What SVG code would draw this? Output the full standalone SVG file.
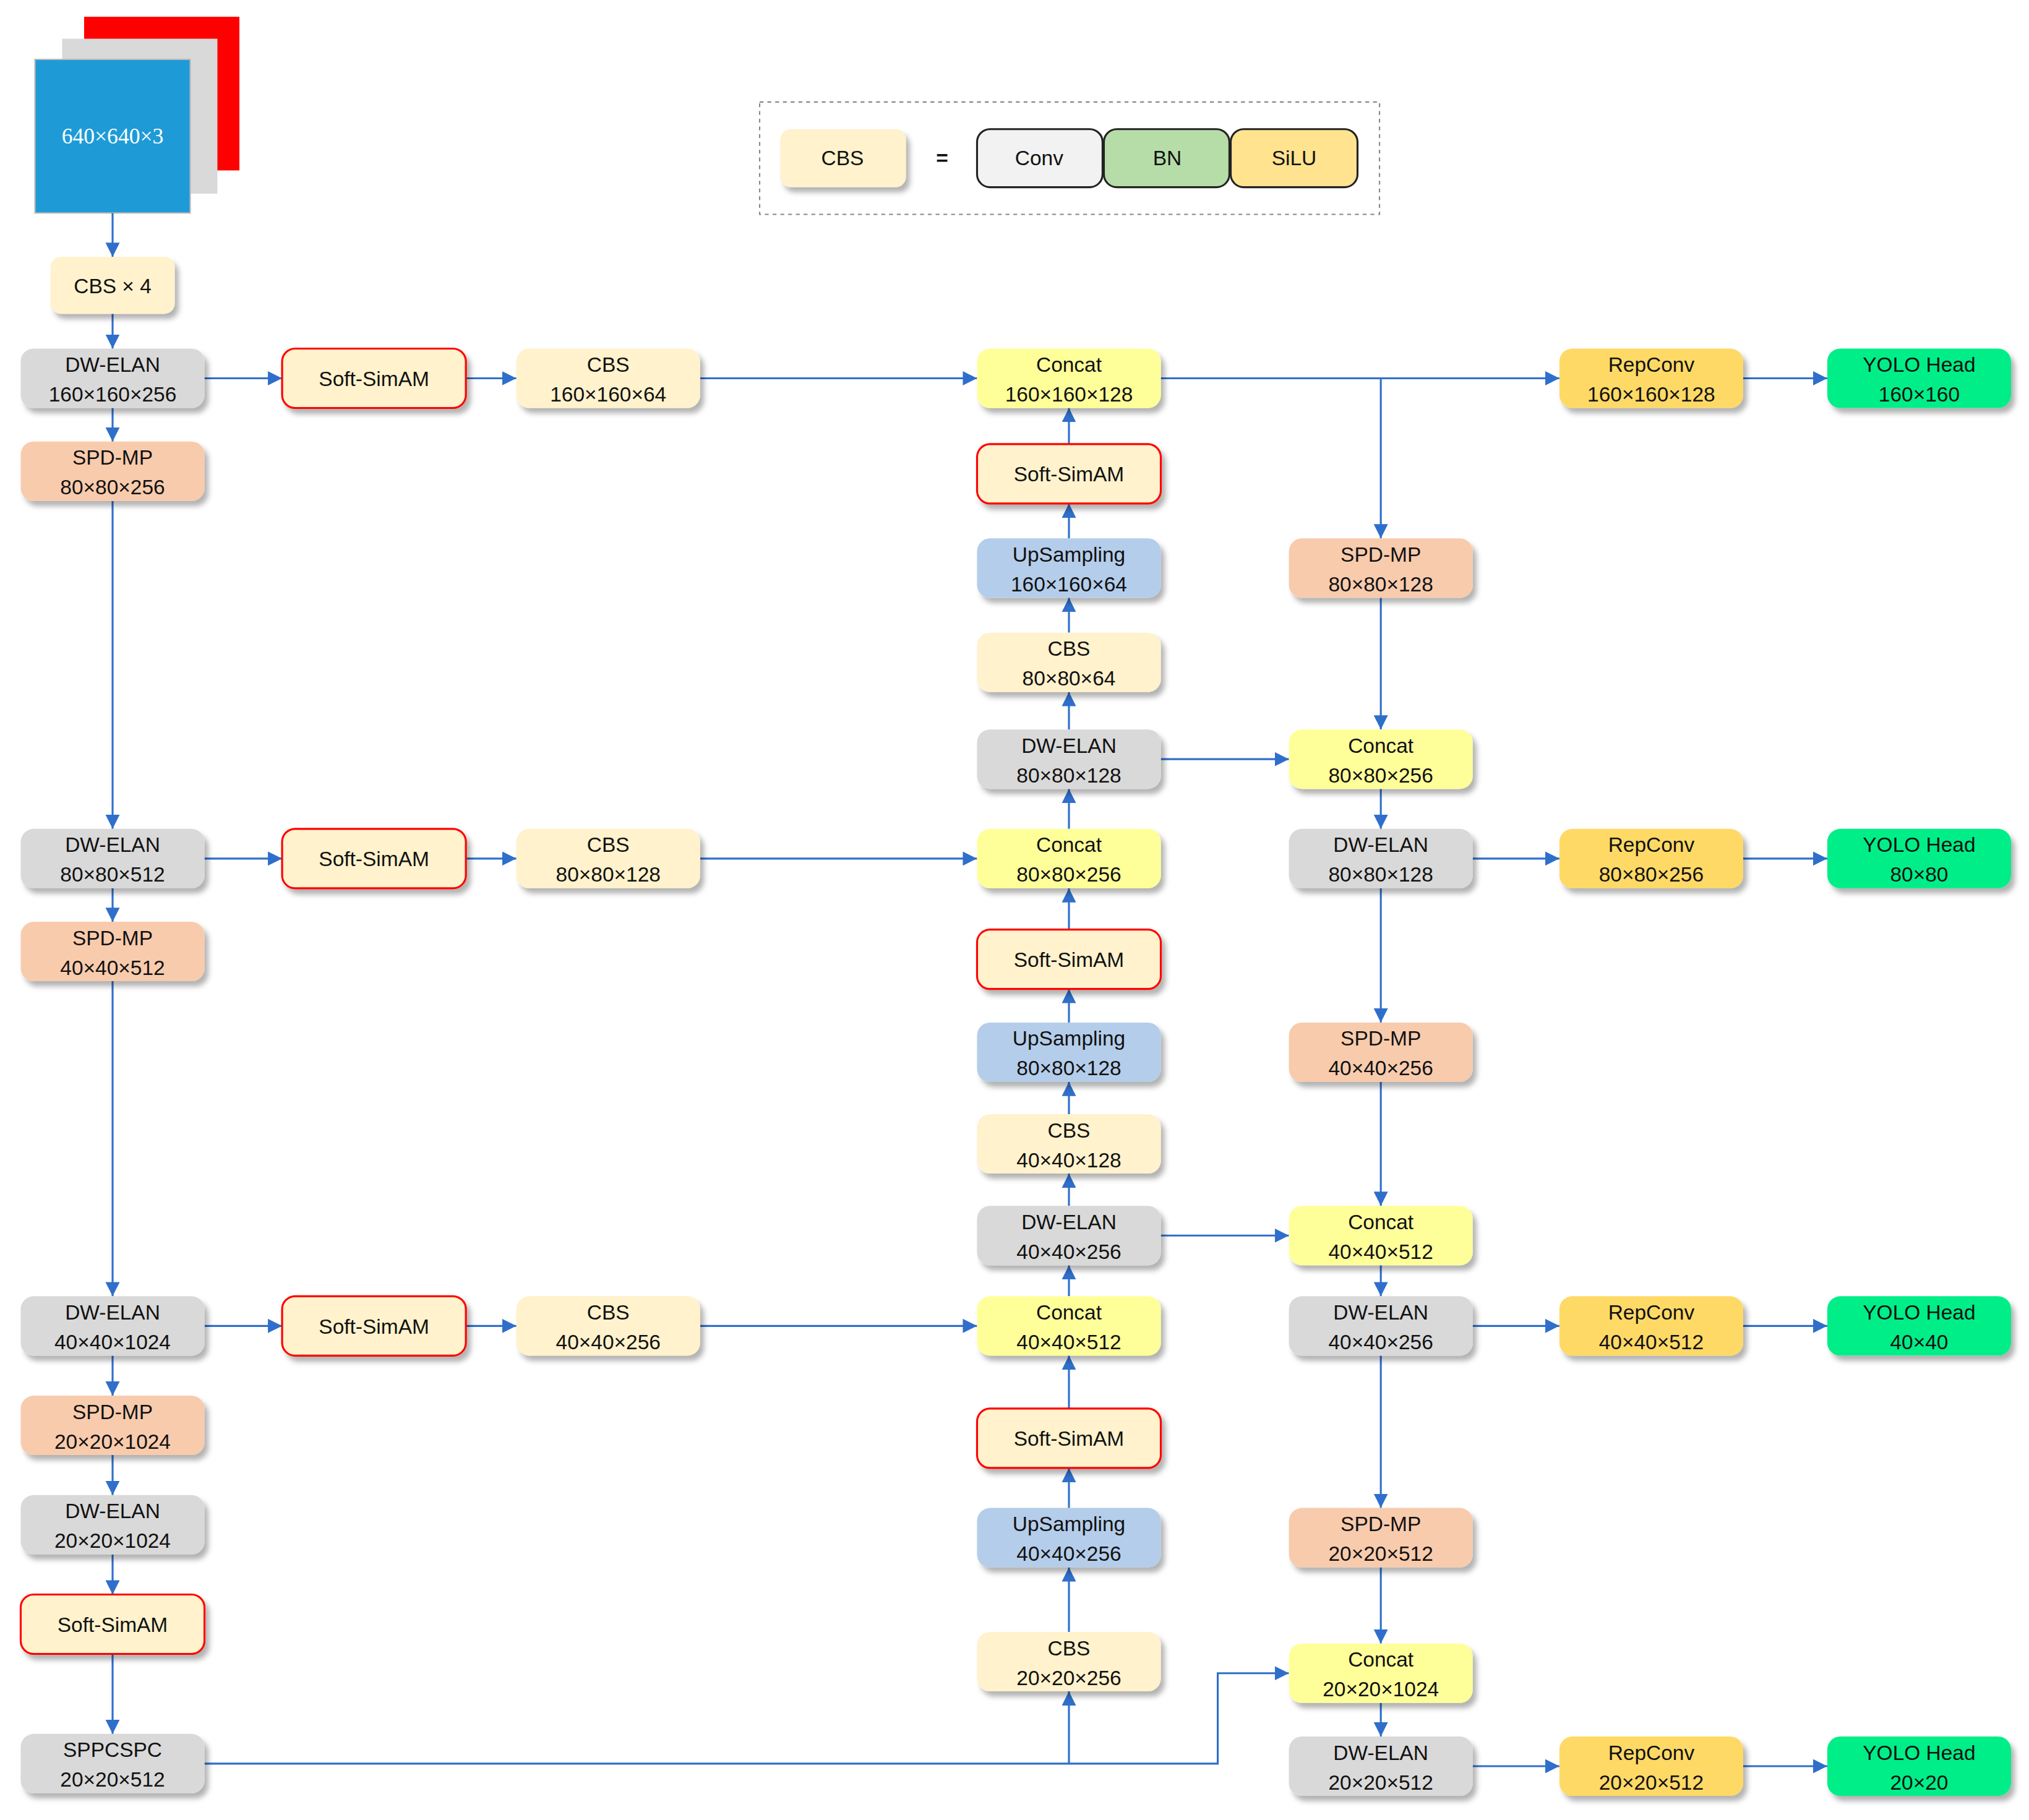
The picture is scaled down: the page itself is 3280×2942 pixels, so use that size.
<svg xmlns="http://www.w3.org/2000/svg" width="3280" height="2942" viewBox="0 0 3280 2942">
<style>
text{font-family:"Liberation Sans",Arial,sans-serif;font-size:16px;fill:#111;text-anchor:middle}
.n{filter:url(#sh)}
.cbs{fill:#FFF2CC}.dw{fill:#D9D9D9}.spd{fill:#F8CBAD}.sim{fill:#FFF2CC;stroke:#FF0000;stroke-width:1.5}
.cat{fill:#FFFF99}.up{fill:#B4CDEA}.rep{fill:#FFD966}.yolo{fill:#00EE88}
.e{fill:none;stroke:#2F6FCB;stroke-width:1.5;marker-end:url(#a)}
.l{fill:none;stroke:#2F6FCB;stroke-width:1.5}
</style>
<defs>
<filter id="sh" x="-10%" y="-10%" width="130%" height="140%"><feDropShadow dx="3" dy="4" stdDeviation="2" flood-color="#000" flood-opacity="0.3"/></filter>
<marker id="a" viewBox="0 0 10 10" refX="10" refY="5" markerWidth="11" markerHeight="11" markerUnits="userSpaceOnUse" orient="auto"><path d="M0,0L10,5L0,10z" fill="#2F6FCB"/></marker>
</defs>
<rect width="3280" height="2942" fill="#fff"/>
<g transform="scale(2.092 2.087)">
<g id="input">
<rect x="65" y="13" width="120" height="119" fill="#FF0000"/>
<rect x="48" y="30" width="120" height="120" fill="#D9D9D9"/>
<rect x="27" y="46" width="120" height="119" fill="#1E9BD7" stroke="#BBB"/>
<text x="87" y="111" style="font-family:'Liberation Serif',serif;fill:#fff;font-size:17px">640×640×3</text>
</g>
<g id="legend">
<rect x="587" y="79" width="479" height="87" fill="none" stroke="#888" stroke-dasharray="3,3"/>
<rect class="n cbs" x="603" y="100" width="97" height="45" rx="8"/><text x="651" y="128">CBS</text>
<text x="728" y="128" style="font-weight:bold">=</text>
<rect x="755" y="100" width="97" height="45" rx="10" fill="#F2F2F2" stroke="#222" stroke-width="1.5"/><text x="803" y="128">Conv</text>
<rect x="853" y="100" width="97" height="45" rx="10" fill="#B6DDA8" stroke="#222" stroke-width="1.5"/><text x="902" y="128">BN</text>
<rect x="951" y="100" width="98" height="45" rx="10" fill="#FFE38F" stroke="#222" stroke-width="1.5"/><text x="1000" y="128">SiLU</text>
</g>
<g id="connectors">
<path class="e" d="M87 165V199"/><path class="e" d="M87 243V270"/><path class="e" d="M87 316V342"/>
<path class="e" d="M87 388V642"/><path class="e" d="M87 688V714"/><path class="e" d="M87 760V1004"/>
<path class="e" d="M87 1050V1081"/><path class="e" d="M87 1127V1158"/><path class="e" d="M87 1204V1235"/><path class="e" d="M87 1281V1343"/>
<path class="e" d="M158 293H218"/><path class="e" d="M360 293H399"/><path class="e" d="M541 293H755"/>
<path class="e" d="M158 665H218"/><path class="e" d="M360 665H399"/><path class="e" d="M541 665H755"/>
<path class="e" d="M158 1027H218"/><path class="e" d="M360 1027H399"/><path class="e" d="M541 1027H755"/>
<path class="e" d="M897 293H1205"/><path class="e" d="M1347 293H1412"/><path class="e" d="M1067 293V417"/>
<path class="e" d="M826 344V316"/><path class="e" d="M826 417V390"/><path class="e" d="M826 490V463"/><path class="e" d="M826 565V536"/>
<path class="e" d="M826 642V611"/><path class="e" d="M826 720V688"/><path class="e" d="M826 792V766"/><path class="e" d="M826 863V838"/>
<path class="e" d="M826 934V909"/><path class="e" d="M826 1004V980"/><path class="e" d="M826 1091V1050"/><path class="e" d="M826 1168V1137"/><path class="e" d="M826 1264V1214"/>
<path class="e" d="M1067 463V565"/><path class="e" d="M1067 611V642"/><path class="e" d="M1067 688V792"/><path class="e" d="M1067 838V934"/>
<path class="e" d="M1067 980V1004"/><path class="e" d="M1067 1050V1168"/><path class="e" d="M1067 1214V1273"/><path class="e" d="M1067 1319V1345"/>
<path class="e" d="M897 588H996"/><path class="e" d="M897 957H996"/>
<path class="e" d="M1138 665H1205"/><path class="e" d="M1347 665H1412"/>
<path class="e" d="M1138 1027H1205"/><path class="e" d="M1347 1027H1412"/>
<path class="e" d="M1138 1368H1205"/><path class="e" d="M1347 1368H1412"/>
<path class="e" d="M158 1366H941V1296H996"/><path class="e" d="M826 1366V1310"/>
</g>
<g id="cbs4"><rect class="n cbs" x="39" y="199" width="96" height="44" rx="8"/><text x="87" y="227">CBS × 4</text></g>
<g id="c1a"><rect class="n dw" x="16" y="270" width="142" height="46" rx="10"/><text x="87" y="288">DW-ELAN</text><text x="87" y="311">160×160×256</text></g>
<g id="c1b"><rect class="n spd" x="16" y="342" width="142" height="46" rx="10"/><text x="87" y="360">SPD-MP</text><text x="87" y="383">80×80×256</text></g>
<g id="c1c"><rect class="n dw" x="16" y="642" width="142" height="46" rx="10"/><text x="87" y="660">DW-ELAN</text><text x="87" y="683">80×80×512</text></g>
<g id="c1d"><rect class="n spd" x="16" y="714" width="142" height="46" rx="10"/><text x="87" y="732">SPD-MP</text><text x="87" y="755">40×40×512</text></g>
<g id="c1e"><rect class="n dw" x="16" y="1004" width="142" height="46" rx="10"/><text x="87" y="1022">DW-ELAN</text><text x="87" y="1045">40×40×1024</text></g>
<g id="c1f"><rect class="n spd" x="16" y="1081" width="142" height="46" rx="10"/><text x="87" y="1099">SPD-MP</text><text x="87" y="1122">20×20×1024</text></g>
<g id="c1g"><rect class="n dw" x="16" y="1158" width="142" height="46" rx="10"/><text x="87" y="1176">DW-ELAN</text><text x="87" y="1199">20×20×1024</text></g>
<g id="c1h"><rect class="n sim" x="16" y="1235" width="142" height="46" rx="10"/><text x="87" y="1264">Soft-SimAM</text></g>
<g id="c1i"><rect class="n dw" x="16" y="1343" width="142" height="46" rx="10"/><text x="87" y="1361">SPPCSPC</text><text x="87" y="1384">20×20×512</text></g>
<g id="s1"><rect class="n sim" x="218" y="270" width="142" height="46" rx="10"/><text x="289" y="299">Soft-SimAM</text></g>
<g id="s2"><rect class="n sim" x="218" y="642" width="142" height="46" rx="10"/><text x="289" y="671">Soft-SimAM</text></g>
<g id="s3"><rect class="n sim" x="218" y="1004" width="142" height="46" rx="10"/><text x="289" y="1033">Soft-SimAM</text></g>
<g id="b1"><rect class="n cbs" x="399" y="270" width="142" height="46" rx="10"/><text x="470" y="288">CBS</text><text x="470" y="311">160×160×64</text></g>
<g id="b2"><rect class="n cbs" x="399" y="642" width="142" height="46" rx="10"/><text x="470" y="660">CBS</text><text x="470" y="683">80×80×128</text></g>
<g id="b3"><rect class="n cbs" x="399" y="1004" width="142" height="46" rx="10"/><text x="470" y="1022">CBS</text><text x="470" y="1045">40×40×256</text></g>
<g id="m1"><rect class="n cat" x="755" y="270" width="142" height="46" rx="10"/><text x="826" y="288">Concat</text><text x="826" y="311">160×160×128</text></g>
<g id="m2"><rect class="n sim" x="755" y="344" width="142" height="46" rx="10"/><text x="826" y="373">Soft-SimAM</text></g>
<g id="m3"><rect class="n up" x="755" y="417" width="142" height="46" rx="10"/><text x="826" y="435">UpSampling</text><text x="826" y="458">160×160×64</text></g>
<g id="m4"><rect class="n cbs" x="755" y="490" width="142" height="46" rx="10"/><text x="826" y="508">CBS</text><text x="826" y="531">80×80×64</text></g>
<g id="m5"><rect class="n dw" x="755" y="565" width="142" height="46" rx="10"/><text x="826" y="583">DW-ELAN</text><text x="826" y="606">80×80×128</text></g>
<g id="m6"><rect class="n cat" x="755" y="642" width="142" height="46" rx="10"/><text x="826" y="660">Concat</text><text x="826" y="683">80×80×256</text></g>
<g id="m7"><rect class="n sim" x="755" y="720" width="142" height="46" rx="10"/><text x="826" y="749">Soft-SimAM</text></g>
<g id="m8"><rect class="n up" x="755" y="792" width="142" height="46" rx="10"/><text x="826" y="810">UpSampling</text><text x="826" y="833">80×80×128</text></g>
<g id="m9"><rect class="n cbs" x="755" y="863" width="142" height="46" rx="10"/><text x="826" y="881">CBS</text><text x="826" y="904">40×40×128</text></g>
<g id="m10"><rect class="n dw" x="755" y="934" width="142" height="46" rx="10"/><text x="826" y="952">DW-ELAN</text><text x="826" y="975">40×40×256</text></g>
<g id="m11"><rect class="n cat" x="755" y="1004" width="142" height="46" rx="10"/><text x="826" y="1022">Concat</text><text x="826" y="1045">40×40×512</text></g>
<g id="m12"><rect class="n sim" x="755" y="1091" width="142" height="46" rx="10"/><text x="826" y="1120">Soft-SimAM</text></g>
<g id="m13"><rect class="n up" x="755" y="1168" width="142" height="46" rx="10"/><text x="826" y="1186">UpSampling</text><text x="826" y="1209">40×40×256</text></g>
<g id="m14"><rect class="n cbs" x="755" y="1264" width="142" height="46" rx="10"/><text x="826" y="1282">CBS</text><text x="826" y="1305">20×20×256</text></g>
<g id="r1"><rect class="n spd" x="996" y="417" width="142" height="46" rx="10"/><text x="1067" y="435">SPD-MP</text><text x="1067" y="458">80×80×128</text></g>
<g id="r2"><rect class="n cat" x="996" y="565" width="142" height="46" rx="10"/><text x="1067" y="583">Concat</text><text x="1067" y="606">80×80×256</text></g>
<g id="r3"><rect class="n dw" x="996" y="642" width="142" height="46" rx="10"/><text x="1067" y="660">DW-ELAN</text><text x="1067" y="683">80×80×128</text></g>
<g id="r4"><rect class="n spd" x="996" y="792" width="142" height="46" rx="10"/><text x="1067" y="810">SPD-MP</text><text x="1067" y="833">40×40×256</text></g>
<g id="r5"><rect class="n cat" x="996" y="934" width="142" height="46" rx="10"/><text x="1067" y="952">Concat</text><text x="1067" y="975">40×40×512</text></g>
<g id="r6"><rect class="n dw" x="996" y="1004" width="142" height="46" rx="10"/><text x="1067" y="1022">DW-ELAN</text><text x="1067" y="1045">40×40×256</text></g>
<g id="r7"><rect class="n spd" x="996" y="1168" width="142" height="46" rx="10"/><text x="1067" y="1186">SPD-MP</text><text x="1067" y="1209">20×20×512</text></g>
<g id="r8"><rect class="n cat" x="996" y="1273" width="142" height="46" rx="10"/><text x="1067" y="1291">Concat</text><text x="1067" y="1314">20×20×1024</text></g>
<g id="r9"><rect class="n dw" x="996" y="1345" width="142" height="46" rx="10"/><text x="1067" y="1363">DW-ELAN</text><text x="1067" y="1386">20×20×512</text></g>
<g id="p1"><rect class="n rep" x="1205" y="270" width="142" height="46" rx="10"/><text x="1276" y="288">RepConv</text><text x="1276" y="311">160×160×128</text></g>
<g id="p2"><rect class="n rep" x="1205" y="642" width="142" height="46" rx="10"/><text x="1276" y="660">RepConv</text><text x="1276" y="683">80×80×256</text></g>
<g id="p3"><rect class="n rep" x="1205" y="1004" width="142" height="46" rx="10"/><text x="1276" y="1022">RepConv</text><text x="1276" y="1045">40×40×512</text></g>
<g id="p4"><rect class="n rep" x="1205" y="1345" width="142" height="46" rx="10"/><text x="1276" y="1363">RepConv</text><text x="1276" y="1386">20×20×512</text></g>
<g id="y1"><rect class="n yolo" x="1412" y="270" width="142" height="46" rx="10"/><text x="1483" y="288">YOLO Head</text><text x="1483" y="311">160×160</text></g>
<g id="y2"><rect class="n yolo" x="1412" y="642" width="142" height="46" rx="10"/><text x="1483" y="660">YOLO Head</text><text x="1483" y="683">80×80</text></g>
<g id="y3"><rect class="n yolo" x="1412" y="1004" width="142" height="46" rx="10"/><text x="1483" y="1022">YOLO Head</text><text x="1483" y="1045">40×40</text></g>
<g id="y4"><rect class="n yolo" x="1412" y="1345" width="142" height="46" rx="10"/><text x="1483" y="1363">YOLO Head</text><text x="1483" y="1386">20×20</text></g>
</g>
</svg>
